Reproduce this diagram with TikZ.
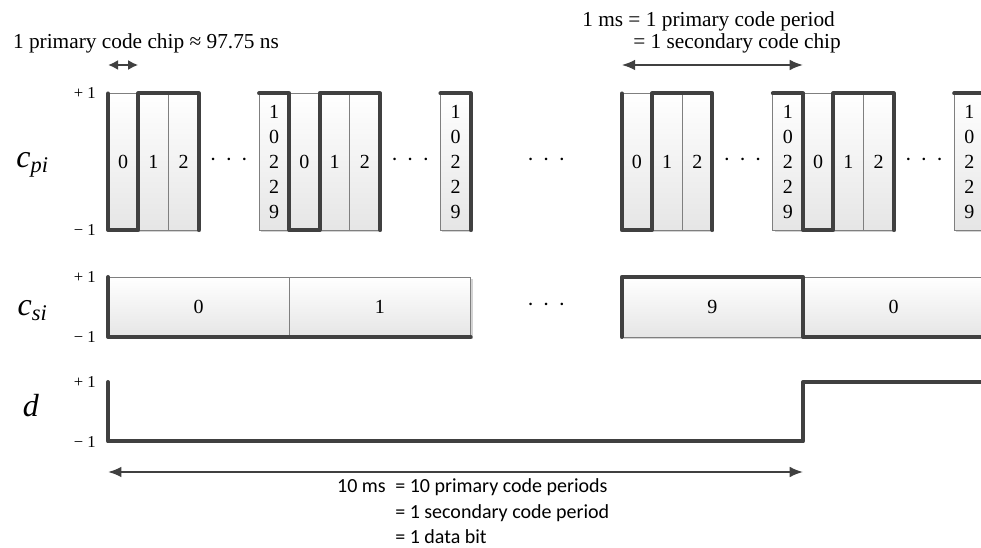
\documentclass[tikz,border=0pt]{standalone}
\usepackage{fontspec}
\setmainfont{Liberation Serif}
\newfontfamily\notefont{Carlito}
\usetikzlibrary{positioning}
\usetikzlibrary{shadows}
\usetikzlibrary{arrows.meta}
\definecolor{wavegray}{HTML}{404040}
\definecolor{cellgray}{HTML}{7F7F7F}
\tikzstyle{chip} = [draw=cellgray, line width=0.7pt, top color=white, bottom color=black!10, minimum width=22.665pt, minimum height=102.4pt, inner sep=0pt, outer sep=0pt, align=center, font=\fontsize{15}{18.75}\selectfont, drop shadow={shadow xshift=1.5pt, shadow yshift=-1.5pt, opacity=0.35}]
\tikzstyle{schip} = [chip, minimum width=135.99pt, minimum height=45pt]
\tikzstyle{wave} = [draw=wavegray, line width=3pt, line cap=round, line join=round]
\tikzstyle{dimarrow} = [draw=wavegray, line width=1.5pt, <->, >={Latex[length=10pt,width=8pt]}]
\tikzstyle{lvl} = [inner sep=0pt, font=\fontsize{12.5}{14}\selectfont]
\tikzstyle{sig} = [inner sep=0pt, anchor=base, font=\fontsize{24}{28}\selectfont\itshape]
\tikzstyle{note} = [inner sep=0pt, anchor=base, font=\fontsize{16}{18}\selectfont]
\tikzstyle{eqn} = [inner sep=0pt, anchor=base west, font=\notefont\fontsize{15}{18}\selectfont]
\tikzstyle{ellip} = [inner sep=0pt, font=\fontsize{16}{18}\selectfont]
\newcommand{\gapdots}{·\hspace{0.4em}·\hspace{0.4em}·}

\begin{document}
% x: one primary code chip, y: downwards
\begin{tikzpicture}[x=22.665pt, y=-0.75pt]

\clip (-3.5738,0) rectangle (28.888,548);

% primary code, periods a, b (first bit) and j, k (around the bit edge)
\node (pa0) [chip] at (0.5,161.75) {0};
\node (pa1) [chip, right=0pt of pa0] {1};
\node (pa2) [chip, right=0pt of pa1] {2};
\node (paN) [chip] at (5.5,161.75) {1\\0\\2\\2\\9};
\node (pb0) [chip, right=0pt of paN] {0};
\node (pb1) [chip, right=0pt of pb0] {1};
\node (pb2) [chip, right=0pt of pb1] {2};
\node (pbN) [chip] at (11.5,161.75) {1\\0\\2\\2\\9};

\node (pj0) [chip] at (17.5,161.75) {0};
\node (pj1) [chip, right=0pt of pj0] {1};
\node (pj2) [chip, right=0pt of pj1] {2};
\node (pjN) [chip] at (22.5,161.75) {1\\0\\2\\2\\9};
\node (pk0) [chip, right=0pt of pjN] {0};
\node (pk1) [chip, right=0pt of pk0] {1};
\node (pk2) [chip, right=0pt of pk1] {2};
\node (pkN) [chip] at (28.5,161.75) {1\\0\\2\\2\\9};

\node (dotsa) [ellip] at (4,162) {\gapdots};
\node (dotsb) [ellip] at (10,162) {\gapdots};
\node (dotsm) [ellip] at (14.5,162) {\gapdots};
\node (dotsj) [ellip] at (21,162) {\gapdots};
\node (dotsk) [ellip] at (27,162) {\gapdots};

% secondary code
\node (s0) [schip] at (3,307) {0};
\node (s1) [schip, right=0pt of s0] {1};
\node (s9) [schip] at (20,307) {9};
\node (s0n) [schip, right=0pt of s9] {0};
\node (sdots) [ellip] at (14.5,307) {\gapdots};

% data bit
\coordinate (d0) at (0,382);
\coordinate (d1) at (0,441.5);
\coordinate (d2) at (23,441.5);
\coordinate (d3) at (23,382);
\coordinate (d4) at (29.5,382);

\draw [wave] (pa0.north west) -- (pa0.south west) -- (pa0.south east) -- (pa1.north west) -- (pa2.north east) -- (pa2.south east);
\draw [wave] (paN.north west) -- (paN.north east) -- (pb0.south west) -- (pb0.south east) -- (pb1.north west) -- (pb2.north east) -- (pb2.south east);
\draw [wave] (pbN.north west) -- (pbN.north east) -- (pbN.south east);
\draw [wave] (pj0.north west) -- (pj0.south west) -- (pj0.south east) -- (pj1.north west) -- (pj2.north east) -- (pj2.south east);
\draw [wave] (pjN.north west) -- (pjN.north east) -- (pk0.south west) -- (pk0.south east) -- (pk1.north west) -- (pk2.north east) -- (pk2.south east);
\draw [wave] (pkN.north west) -- (pkN.north east);

\draw [wave] (s0.north west) -- (s0.south west) -- (s1.south east);
\draw [wave] (s9.south west) -- (s9.north west) -- (s9.north east) -- (s0n.south west) -- (s0n.south east);

\draw [wave] (d0) -- (d1) -- (d2) -- (d3) -- (d4);

% signal names and levels
\node (cpi) [sig] at (-2.498,168) {c\textsubscript{pi}};
\node (csi) [sig] at (-2.498,316) {c\textsubscript{si}};
\node (dat) [sig] at (-2.548,417) {d};

\node (cpiP) [lvl, left=9pt of pa0.north west] {+ 1};
\node (cpiM) [lvl, left=9pt of pa0.south west] {− 1};
\node (csiP) [lvl, left=9pt of s0.north west] {+ 1};
\node (csiM) [lvl, left=9pt of s0.south west] {− 1};
\node (datP) [lvl, left=9pt of d0] {+ 1};
\node (datM) [lvl, left=9pt of d1] {− 1};

% durations
\coordinate (chipL) at (0,65);
\coordinate (chipR) at (1,65);
\draw [dimarrow, >={Latex[length=7.5pt,width=7.5pt]}] (chipL) -- (chipR);
\node (chiptxt) [note] at (1.257,49) {1 primary code chip ≈ 97.75 ns};

\coordinate (msL) at (17,65);
\coordinate (msR) at (23,65);
\draw [dimarrow] (msL) -- (msR);
\node (mstxt) [note, anchor=base west] at (15.685,27) {1 ms = 1 primary code period};
\node (mstxtb) [note, anchor=base west] at (17.373,49) {= 1 secondary code chip};

\coordinate (bitL) at (0,472);
\coordinate (bitR) at (23,472);
\draw [dimarrow] (bitL) -- (bitR);
\node (tenms) [eqn, anchor=base east] at (9.199,492) {10 ms};
\node (eqper) [eqn] at (9.497,492) {= 10 primary code periods};
\node (eqsec) [eqn] at (9.497,518) {= 1 secondary code period};
\node (eqbit) [eqn] at (9.497,543) {= 1 data bit};

\end{tikzpicture}
\end{document}
